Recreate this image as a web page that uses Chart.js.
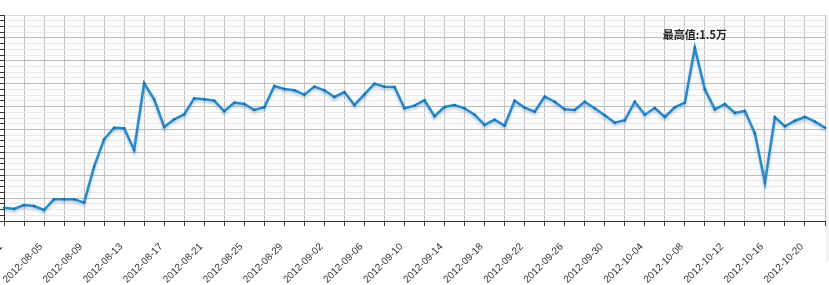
<!DOCTYPE html>
<html>
<head>
<meta charset="utf-8">
<script src="https://cdn.jsdelivr.net/npm/chart.js@4.4.0/dist/chart.umd.min.js"></script>
<style>
  html, body { margin: 0; padding: 0; background: #fff; }
  #wrap { width: 829px; height: 285px; position: relative; }
</style>
</head>
<body>
<div id="wrap"><canvas id="grafico"></canvas></div>
<script>
// dias de 2012-08-01 a 2012-10-22
const dias = [
	'2012-08-01','2012-08-02','2012-08-03','2012-08-04','2012-08-05','2012-08-06','2012-08-07','2012-08-08',
	'2012-08-09','2012-08-10','2012-08-11','2012-08-12','2012-08-13','2012-08-14','2012-08-15','2012-08-16',
	'2012-08-17','2012-08-18','2012-08-19','2012-08-20','2012-08-21','2012-08-22','2012-08-23','2012-08-24',
	'2012-08-25','2012-08-26','2012-08-27','2012-08-28','2012-08-29','2012-08-30','2012-08-31','2012-09-01',
	'2012-09-02','2012-09-03','2012-09-04','2012-09-05','2012-09-06','2012-09-07','2012-09-08','2012-09-09',
	'2012-09-10','2012-09-11','2012-09-12','2012-09-13','2012-09-14','2012-09-15','2012-09-16','2012-09-17',
	'2012-09-18','2012-09-19','2012-09-20','2012-09-21','2012-09-22','2012-09-23','2012-09-24','2012-09-25',
	'2012-09-26','2012-09-27','2012-09-28','2012-09-29','2012-09-30','2012-10-01','2012-10-02','2012-10-03',
	'2012-10-04','2012-10-05','2012-10-06','2012-10-07','2012-10-08','2012-10-09','2012-10-10','2012-10-11',
	'2012-10-12','2012-10-13','2012-10-14','2012-10-15','2012-10-16','2012-10-17','2012-10-18','2012-10-19',
	'2012-10-20','2012-10-21','2012-10-22'
];

const valores = [
	1160, 1050, 1400, 1310, 960, 1900, 1900, 1900,
	1600, 4750, 7140, 8150, 8100, 6200, 12030, 10630,
	8210, 8890, 9320, 10720, 10630, 10510, 9590, 10340,
	10220, 9700, 9940, 11800, 11530, 11420, 11040, 11740,
	11420, 10840, 11270, 10140, 11070, 12000, 11740, 11710,
	9850, 10080, 10550, 9150, 9960, 10140, 9850, 9290,
	8390, 8850, 8330, 10510, 9900, 9550, 10860, 10420,
	9760, 9700, 10420, 9850, 9240, 8590, 8800, 10420,
	9290, 9870, 9090, 9940, 10340, 15140, 11510, 9760,
	10220, 9440, 9610, 7660, 3350, 9060, 8280, 8760,
	9090, 8680, 8150
];

const rotuloMax = '最高值:1.5万';

const fundo = {
	id: 'fundo',
	beforeDraw(c) {
		const { ctx, chartArea: a } = c;
		ctx.save();
		ctx.fillStyle = '#fcfcfc';
		ctx.fillRect(a.left, a.top, a.right - a.left, a.bottom - a.top);
		const g = ctx.createLinearGradient(a.right, 0, c.width, 0);
		g.addColorStop(0, '#ececec');
		g.addColorStop(1, '#f8f8f8');
		ctx.fillStyle = g;
		ctx.fillRect(a.right + 1, a.top, c.width - a.right, a.bottom - a.top + 40);
		ctx.restore();
	},
	beforeDatasetDraw(c) {
		c.ctx.save();
		c.ctx.shadowColor = 'rgba(40,135,200,0.35)';
		c.ctx.shadowBlur = 3;
		c.ctx.shadowOffsetY = 2;
	},
	afterDatasetDraw(c) {
		c.ctx.restore();
	},
	afterDatasetsDraw(c) {
		const ctx = c.ctx;
		const idx = valores.indexOf(Math.max(...valores));
		const pt = c.getDatasetMeta(0).data[idx];
		ctx.save();
		ctx.font = 'bold 11px "Noto Sans CJK SC", sans-serif';
		ctx.fillStyle = '#222';
		ctx.textAlign = 'center';
		ctx.textBaseline = 'middle';
		ctx.fillText(rotuloMax, pt.x, pt.y - 13);
		ctx.restore();
	}
};

const ctx = document.getElementById('grafico').getContext('2d');
const chart = new Chart(ctx, {
	type: 'line',
	data: {
		labels: dias,
		datasets: [{
			data: valores,
			borderColor: '#2a88c8',
			borderWidth: 2.5,
			pointRadius: 1.2,
			pointBackgroundColor: '#1c6aa0',
			pointBorderWidth: 0,
			tension: 0
		}]
	},
	options: {
		responsive: true,
		maintainAspectRatio: false,
		animation: false,
		layout: { autoPadding: false, padding: { top: 15, right: 4, bottom: 0, left: 0 } },
		plugins: { legend: { display: false }, tooltip: { enabled: false } },
		scales: {
			x: {
				border: { color: '#333', width: 1 },
				grid: {
					color: c => c.index % 2 === 0 ? '#c2c2c2' : 'rgba(0,0,0,0)',
					tickColor: c => c.index % 2 === 0 ? '#333' : 'rgba(0,0,0,0)',
					tickLength: 5
				},
				ticks: {
					autoSkip: false,
					minRotation: 45,
					maxRotation: 45,
					padding: 15,
					labelOffset: -3,
					color: '#333',
					font: { family: '"Liberation Sans", Arial, sans-serif', size: 10 },
					callback: (v, i) => i % 4 === 0 ? dias[i] : ''
				},
				afterFit: s => {
					s.paddingLeft = 0;
					s.paddingRight = 0;
					s.height = 64;
				}
			},
			y: {
				min: 0,
				max: 18000,
				border: { color: '#333', width: 1 },
				grid: {
					color: c => c.tick.value === 18000 ? '#dcdcdc' : (c.tick.value % 2000 === 0 ? '#bdbdbd' : '#e9e9e9'),
					tickColor: '#333',
					tickLength: 4
				},
				ticks: { display: false, stepSize: 500 }
			}
		}
	},
	plugins: [fundo]
});
</script>
</body>
</html>
